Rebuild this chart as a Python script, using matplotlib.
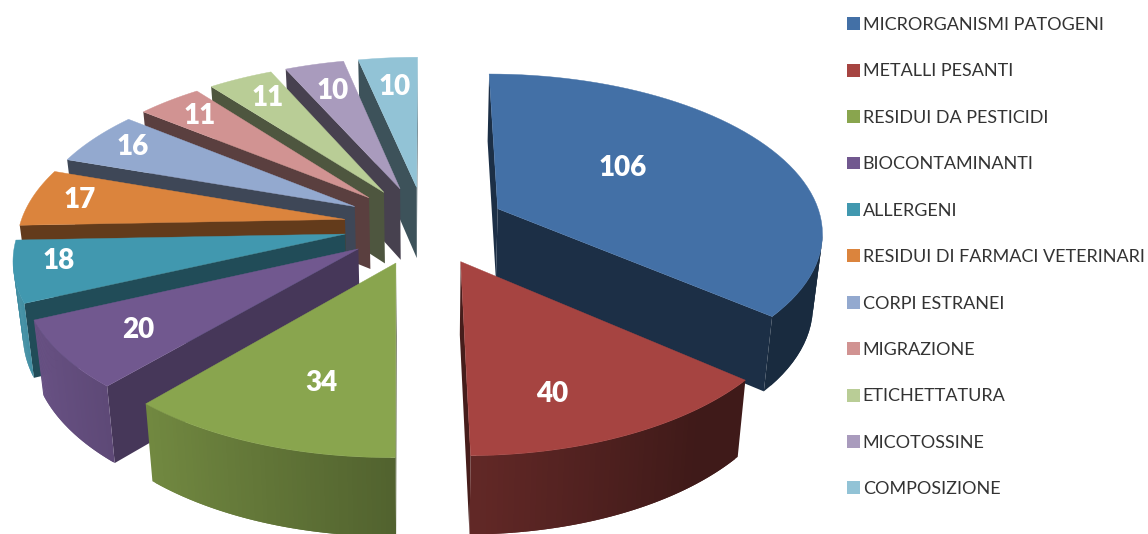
import numpy as np
import matplotlib
matplotlib.use("Agg")
import matplotlib.pyplot as plt
from matplotlib.patches import Patch
from matplotlib.colors import to_rgb

categories = ["MICRORGANISMI PATOGENI", "METALLI PESANTI", "RESIDUI DA PESTICIDI",
              "BIOCONTAMINANTI", "ALLERGENI", "RESIDUI DI FARMACI VETERINARI",
              "CORPI ESTRANEI", "MIGRAZIONE", "ETICHETTATURA", "MICOTOSSINE", "COMPOSIZIONE"]
values = [106, 40, 34, 20, 18, 17, 16, 11, 11, 10, 10]
colors = ["#4370a6", "#a64441", "#89a54e", "#71588f", "#4198af", "#db843d",
          "#93a9cf", "#d19392", "#b9cd96", "#a99bbd", "#92c3d6"]
wall_shade = [0.42, 0.42, 0.42, 0.62, 0.5, 0.45, 0.42, 0.43, 0.42, 0.42, 0.42]
label_radius = [0.50, 0.75, 0.68, 0.765, 0.865, 0.85, 0.85, 0.835, 0.81, 0.77, 0.755]
label_sweep = [0.43, 0.64, 0.41, 0.47, 0.59, 0.52, 0.52, 0.49, 0.55, 0.5, 0.5]

CX, CY, RX, RY, PERSP, EXPLODE, DEPTH, TAPER = 425, 225, 325, 157, 0.135, 0.25, 72, 0.024

def project(X, Y):
    s = 1.0 / (1.0 + PERSP * Y)
    return CX + RX * X * s, CY - RY * Y * s, s

def shade(rgb, f):
    return tuple(min(1, c * f) for c in rgb)

fig = plt.figure(figsize=(11.48, 5.34), dpi=100)
ax = fig.add_axes([0, 0, 1, 1])
ax.set_xlim(0, 1148)
ax.set_ylim(534, 0)
ax.axis("off")

total = sum(values)
edges = np.concatenate([[0], np.cumsum(values)]) / total * 2 * np.pi
mids = (edges[:-1] + edges[1:]) / 2
order = np.argsort(-np.cos(mids))   # far slices first

for i in order:
    rgb = to_rgb(colors[i])
    t = np.linspace(edges[i], edges[i + 1], 60)
    ox, oy = EXPLODE * np.sin(mids[i]), EXPLODE * np.cos(mids[i])
    ax_, ay_, as_ = project(ox, oy)
    px, py, ps = project(ox + np.sin(t), oy + np.cos(t))
    pb = py + DEPTH * np.sqrt(ps)
    ab = ay_ + DEPTH * np.sqrt(as_)
    qx = CX + (px - CX) * (1 - TAPER)
    ax_b = CX + (ax_ - CX) * (1 - TAPER)
    cx_, cy_ = (ax_ + px.mean()) / 2, (ay_ + py.mean()) / 2
    # radial walls
    for k in (0, -1):
        ex, ey = px[k] - ax_, py[k] - ay_
        if np.sign(ex) != np.sign(ex * (cy_ - ay_) - ey * (cx_ - ax_)):
            ax.fill([ax_, px[k], qx[k], ax_b], [ay_, py[k], pb[k], ab],
                    color=shade(rgb, wall_shade[i]), lw=0)
    # outer wall facets, overlapping so that no seams show
    for j in range(len(t) - 2):
        if px[j + 1] < px[j]:
            f = np.clip(0.6 - 0.35 * np.sin(t[j]), 0.38, 0.92)
            ax.fill([px[j], px[j + 1], px[j + 2], qx[j + 2], qx[j + 1], qx[j]],
                    [py[j], py[j + 1], py[j + 2], pb[j + 2], pb[j + 1], pb[j]],
                    color=shade(rgb, f), lw=0)
    # top face
    ax.fill(np.r_[ax_, px], np.r_[ay_, py], color=rgb, lw=0.3)
    r = label_radius[i]
    a = edges[i] + label_sweep[i] * (edges[i + 1] - edges[i])
    lx, ly, _ = project(ox + r * np.sin(a), oy + r * np.cos(a))
    ax.text(lx, ly, str(values[i]), color="white", fontsize=20, fontweight="heavy",
            family="Lato", ha="center", va="center")

handles = [Patch(facecolor=c, edgecolor="none", label=n) for c, n in zip(colors, categories)]
ax.legend(handles=handles, loc="upper left", bbox_to_anchor=(847, 17), bbox_transform=ax.transData,
          frameon=False, prop={"family": "Lato", "size": 13.0}, labelcolor="#333333",
          handlelength=0.72, handleheight=0.72, handletextpad=0.15, labelspacing=1.685, borderpad=0, borderaxespad=0)

fig.savefig("out.png", dpi=100)
